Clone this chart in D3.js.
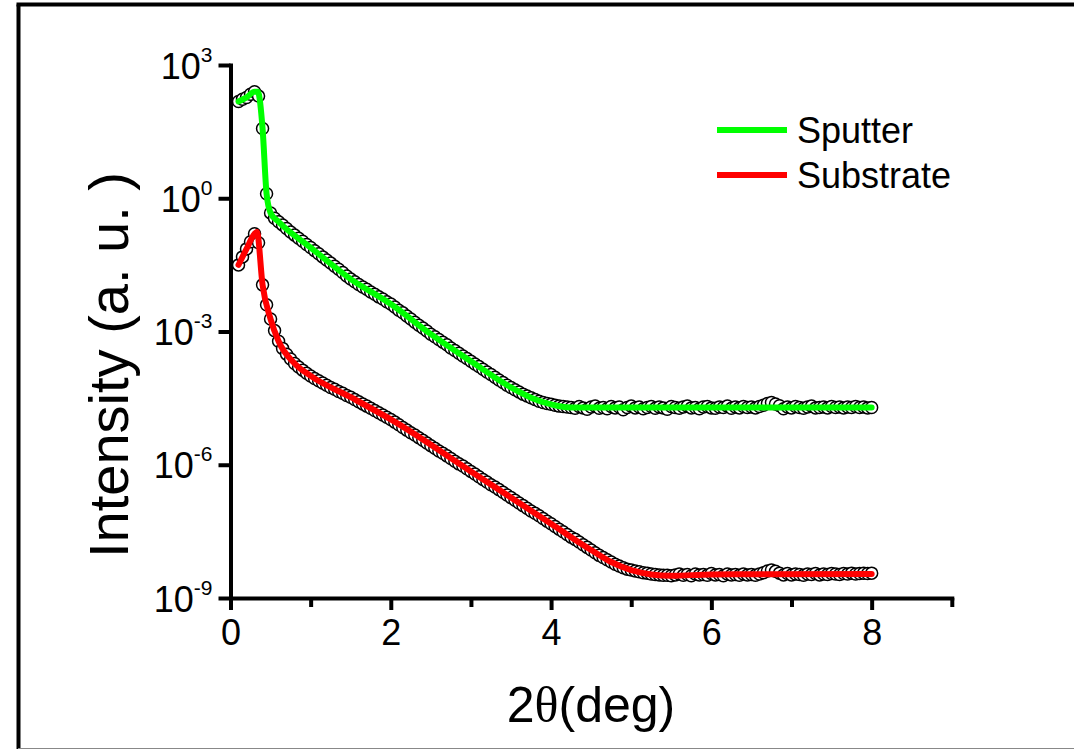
<!DOCTYPE html>
<html>
<head>
<meta charset="utf-8">
<script src="https://cdn.jsdelivr.net/npm/d3@7/dist/d3.min.js"></script>
<style>
  html, body { margin: 0; padding: 0; background: #fff; }
  svg text { font-family: "Liberation Sans", Arial, sans-serif; fill: #000; }
</style>
</head>
<body>
<svg id="chart" width="1074" height="749"></svg>
<script>
// 2theta grid of the measured points (deg), one point every 0.05 deg
const theta = d3.range(0.10, 8.0001, 0.05);

const sputterLog = [
  2.18, 2.23, 2.27, 2.34, 2.40, 2.30, 1.57, 0.10, -0.33, -0.45,
  -0.53, -0.60, -0.68, -0.76, -0.83, -0.90, -0.97, -1.04, -1.11, -1.18,
  -1.25, -1.32, -1.39, -1.46, -1.53, -1.60, -1.67, -1.75, -1.82, -1.88,
  -1.94, -2.00, -2.05, -2.11, -2.16, -2.22, -2.27, -2.33, -2.38, -2.45,
  -2.52, -2.58, -2.65, -2.72, -2.79, -2.86, -2.92, -2.99, -3.06, -3.12,
  -3.18, -3.24, -3.30, -3.37, -3.43, -3.49, -3.55, -3.61, -3.67, -3.73,
  -3.79, -3.85, -3.91, -3.97, -4.03, -4.09, -4.15, -4.21, -4.26, -4.31,
  -4.36, -4.41, -4.45, -4.49, -4.53, -4.57, -4.60, -4.62, -4.64, -4.66,
  -4.68, -4.69, -4.70, -4.71, -4.73, -4.69, -4.72, -4.75, -4.70, -4.68,
  -4.73, -4.71, -4.74, -4.69, -4.72, -4.70, -4.76, -4.71, -4.68, -4.72,
  -4.70, -4.74, -4.71, -4.69, -4.73, -4.70, -4.72, -4.75, -4.69, -4.71,
  -4.73, -4.70, -4.68, -4.72, -4.71, -4.74, -4.70, -4.69, -4.72, -4.73,
  -4.70, -4.71, -4.68, -4.73, -4.70, -4.72, -4.69, -4.71, -4.70, -4.72,
  -4.69, -4.66, -4.62, -4.60, -4.63, -4.67, -4.74, -4.70, -4.72, -4.69,
  -4.71, -4.73, -4.70, -4.68, -4.72, -4.71, -4.70, -4.72, -4.69, -4.71,
  -4.70, -4.72, -4.70, -4.71, -4.69, -4.71, -4.70, -4.72, -4.71
];

const substrateLog = [
  -1.50, -1.32, -1.14, -0.98, -0.80, -1.00, -1.95, -2.40, -2.72, -2.98,
  -3.22, -3.38, -3.51, -3.62, -3.72, -3.80, -3.87, -3.94, -4.00, -4.06,
  -4.11, -4.16, -4.21, -4.26, -4.30, -4.35, -4.39, -4.44, -4.48, -4.53,
  -4.58, -4.63, -4.68, -4.73, -4.78, -4.83, -4.88, -4.93, -4.98, -5.04,
  -5.10, -5.16, -5.22, -5.28, -5.33, -5.39, -5.45, -5.51, -5.57, -5.63,
  -5.69, -5.74, -5.80, -5.86, -5.92, -5.98, -6.03, -6.09, -6.15, -6.21,
  -6.27, -6.33, -6.39, -6.45, -6.50, -6.56, -6.62, -6.68, -6.74, -6.80,
  -6.86, -6.92, -6.98, -7.04, -7.09, -7.15, -7.21, -7.27, -7.33, -7.39,
  -7.45, -7.51, -7.57, -7.63, -7.68, -7.74, -7.80, -7.86, -7.92, -7.98,
  -8.04, -8.09, -8.14, -8.19, -8.24, -8.28, -8.32, -8.35, -8.37, -8.39,
  -8.41, -8.43, -8.44, -8.46, -8.47, -8.48, -8.49, -8.49, -8.50, -8.48,
  -8.46, -8.49, -8.47, -8.50, -8.46, -8.48, -8.47, -8.49, -8.45, -8.48,
  -8.47, -8.50, -8.46, -8.48, -8.47, -8.49, -8.46, -8.48, -8.47, -8.49,
  -8.46, -8.43, -8.39, -8.37, -8.40, -8.44, -8.48, -8.45, -8.48, -8.46,
  -8.47, -8.49, -8.46, -8.47, -8.45, -8.48, -8.46, -8.47, -8.45, -8.46,
  -8.47, -8.45, -8.46, -8.44, -8.46, -8.45, -8.44, -8.45, -8.44
];

// fitted curves (smooth lines), knots: [theta, log10 I]
const sputterFit = [
  [0.10, 2.18], [0.20, 2.27], [0.30, 2.40], [0.34, 2.40], [0.40, 1.57],
  [0.45, 0.10], [0.50, -0.33], [0.60, -0.53], [1.00, -1.11], [1.50, -1.82],
  [2.00, -2.38], [2.50, -3.06], [3.00, -3.67], [3.50, -4.26], [3.75, -4.49],
  [4.00, -4.64], [4.25, -4.71], [5.00, -4.71], [8.00, -4.71]
];
const substrateFit = [
  [0.10, -1.50], [0.20, -1.14], [0.30, -0.80], [0.33, -0.76], [0.40, -1.95],
  [0.50, -2.72], [0.60, -3.22], [0.80, -3.72], [1.00, -4.00], [1.50, -4.48],
  [2.00, -4.98], [3.00, -6.15], [4.00, -7.33], [4.50, -7.92], [4.75, -8.19],
  [5.00, -8.37], [5.50, -8.50], [6.00, -8.47], [8.00, -8.46]
];

const seriesNames = ['Sputter', 'Substrate'];
const seriesColors = ['#00ff00', '#ff0000'];
const xTicks = [0, 2, 4, 6, 8];
const xMinorTicks = [1, 3, 5, 7, 9];
const yTickExps = [-9, -6, -3, 0, 3];

const svg = d3.select('#chart');

// outer frame of the picture
svg.append('line').attr('x1', 18.5).attr('y1', 4.5).attr('x2', 18.5).attr('y2', 749)
    .attr('stroke', '#000').attr('stroke-width', 4);
svg.append('line').attr('x1', 16.5).attr('y1', 4.5).attr('x2', 1074).attr('y2', 4.5)
    .attr('stroke', '#000').attr('stroke-width', 4);
svg.append('line').attr('x1', 18).attr('y1', 748.5).attr('x2', 1074).attr('y2', 748.5)
    .attr('stroke', '#888').attr('stroke-width', 1);

const x = d3.scaleLinear().domain([0, 9]).range([230.5, 951.8]);
const y = d3.scaleLog().domain([1e-9, 1e3]).range([598, 65]);

const plot = svg.append('g');

const lineGen = d3.line()
    .x(d => x(d[0]))
    .y(d => y(Math.pow(10, d[1])))
    .curve(d3.curveMonotoneX);

const measured = [sputterLog, substrateLog];
const fits = [sputterFit, substrateFit];

// measured points: open circles
measured.forEach((vals) => {
    plot.append('g')
        .selectAll('circle')
        .data(vals.map((v, i) => [theta[i], v]))
        .enter()
        .append('circle')
        .attr('cx', d => x(d[0]))
        .attr('cy', d => y(Math.pow(10, d[1])))
        .attr('r', 6)
        .attr('fill', '#fff')
        .attr('stroke', '#000')
        .attr('stroke-width', 1.5);
});

// fitted lines on top of the points
fits.forEach((fit, i) => {
    plot.append('path')
        .datum(fit)
        .attr('d', lineGen)
        .attr('fill', 'none')
        .attr('stroke', seriesColors[i])
        .attr('stroke-width', 6)
        .attr('stroke-linecap', 'round')
        .attr('stroke-linejoin', 'round');
});

// axes
const xAxis = svg.append('g')
    .attr('transform', 'translate(0,598)')
    .call(d3.axisBottom(x).tickValues(xTicks).tickSize(12).tickSizeOuter(0).tickPadding(8));
const xMinor = svg.append('g')
    .attr('transform', 'translate(0,598)')
    .call(d3.axisBottom(x).tickValues(xMinorTicks).tickSize(9).tickSizeOuter(0).tickFormat(''));
xMinor.select('.domain').remove();

const yAxis = svg.append('g')
    .attr('transform', 'translate(230.5,0)')
    .call(d3.axisLeft(y).tickValues(yTickExps.map(e => Math.pow(10, e))).tickSize(12)
        .tickSizeOuter(0).tickFormat(''));

[xAxis, xMinor, yAxis].forEach(a => {
    a.selectAll('.domain').attr('stroke', '#000').attr('stroke-width', 4).attr('stroke-linecap', 'square');
    a.selectAll('.tick line').attr('stroke', '#000').attr('stroke-width', 4);
});

xAxis.selectAll('.tick text')
    .attr('font-size', 36)
    .attr('font-family', '"Liberation Sans", Arial, sans-serif')
    .attr('fill', '#000')
    .attr('dy', null)
    .attr('y', 47);

// y tick labels as 10 with a superscript exponent
yAxis.selectAll('.tick').each(function (d) {
    const e = Math.round(Math.log10(d));
    const t = d3.select(this).append('text')
        .attr('x', -18)
        .attr('y', 13)
        .attr('text-anchor', 'end')
        .attr('font-size', 36);
    t.append('tspan').text('10');
    t.append('tspan').attr('font-size', 21).attr('dy', -17).text(e);
});

// axis titles
svg.append('text')
    .attr('x', 591)
    .attr('y', 722)
    .attr('text-anchor', 'middle')
    .attr('font-size', 50)
    .call(t => {
        t.append('tspan').text('2');
        t.append('tspan').attr('font-family', '"Liberation Serif", "Times New Roman", serif').text('θ');
        t.append('tspan').text('(deg)');
    });

svg.append('text')
    .attr('transform', 'translate(128,365) rotate(-90)')
    .attr('text-anchor', 'middle')
    .attr('font-size', 56)
    .text('Intensity (a. u. )');

// legend
const legend = svg.append('g');
seriesNames.forEach((name, i) => {
    const ly = 130 + i * 45;
    legend.append('line')
        .attr('x1', 717).attr('x2', 787)
        .attr('y1', ly).attr('y2', ly)
        .attr('stroke', seriesColors[i])
        .attr('stroke-width', 6);
    legend.append('text')
        .attr('x', 797)
        .attr('y', ly + 13)
        .attr('font-size', 36)
        .text(name);
});
</script>
</body>
</html>
